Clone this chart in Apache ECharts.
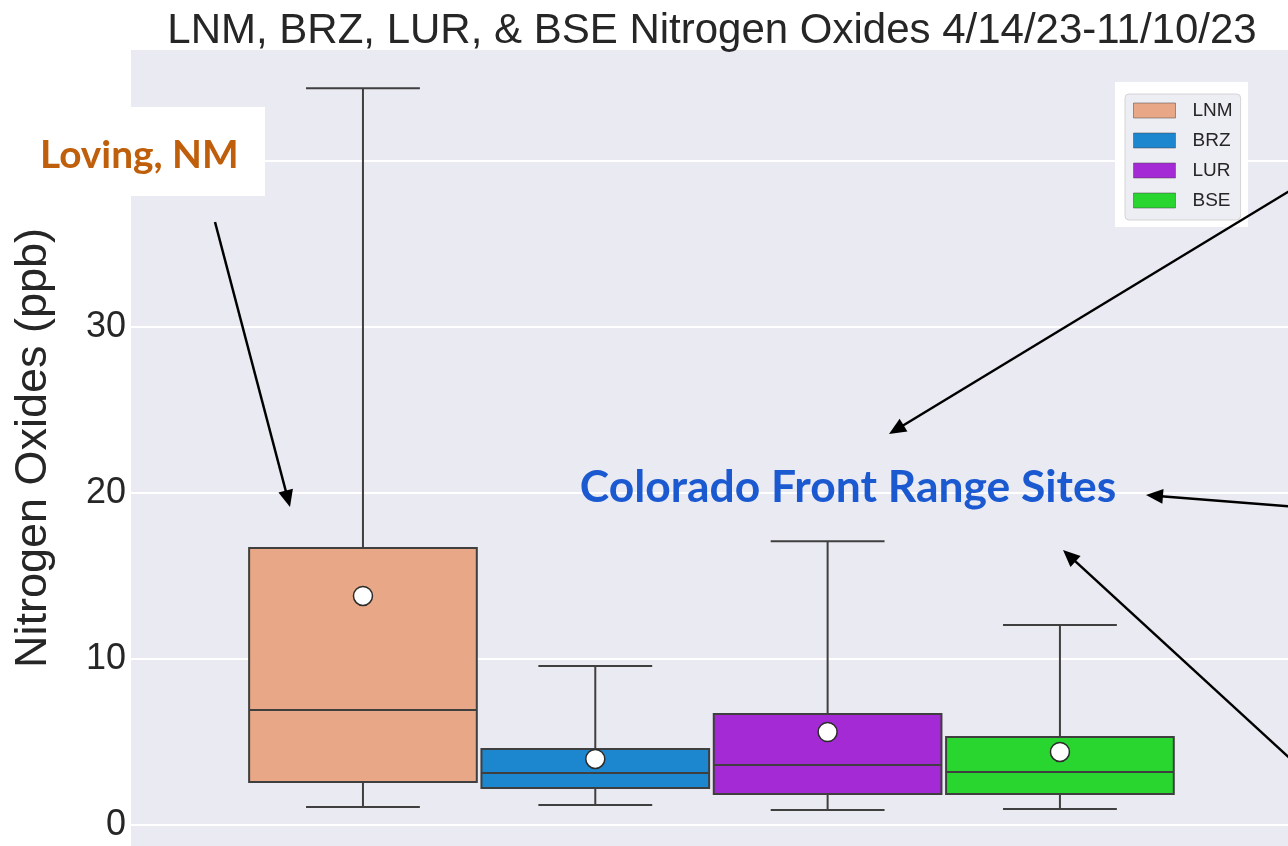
<!DOCTYPE html>
<html>
<head>
<meta charset="utf-8">
<script src="https://cdn.jsdelivr.net/npm/echarts@6/dist/echarts.min.js"></script>
<style>
  html, body { margin: 0; padding: 0; background: #fff; }
  #chart { width: 1288px; height: 846px; }
</style>
</head>
<body>
<div id="chart"></div>
<script>
// values (ppb)
const sites = ["LNM", "BRZ", "LUR", "BSE"];
const whiskerLow = [1.08, 1.2, 0.9, 0.96];
const quartile1 = [2.59, 2.23, 1.87, 1.87];
const medians = [6.93, 3.13, 3.61, 3.19];
const quartile3 = [16.69, 4.58, 6.69, 5.3];
const whiskerHigh = [44.4, 9.58, 17.1, 12.05];
const means = [13.8, 3.98, 5.6, 4.4];
const yTicks = [0, 10, 20, 30, 40];

const siteColors = ["#e8a887", "#1c86cf", "#a42ad6", "#29d630"];
const lineColor = "#3f3f3f";
const textColor = "#262626";

const chart = echarts.init(document.getElementById("chart"));

// one box per site, seaborn style: half width caps, white mean dot
function renderBox(params, api) {
  const x = api.value(0);
  const lo = api.coord([x, api.value(1)]);
  const b1 = api.coord([x, api.value(2)]);
  const md = api.coord([x, api.value(3)]);
  const b3 = api.coord([x, api.value(4)]);
  const hi = api.coord([x, api.value(5)]);
  const mn = api.coord([x, api.value(6)]);
  const half = (api.size([1, 0])[0] * 0.98) / 2;
  const cap = half / 2;
  const cx = lo[0];
  const line = (x1, y1, x2, y2) => ({
    type: "line",
    shape: { x1, y1, x2, y2 },
    style: { stroke: lineColor, lineWidth: 2 },
  });
  return {
    type: "group",
    children: [
      line(cx, hi[1], cx, b3[1]),
      line(cx, b1[1], cx, lo[1]),
      line(cx - cap, hi[1], cx + cap, hi[1]),
      line(cx - cap, lo[1], cx + cap, lo[1]),
      {
        type: "rect",
        shape: { x: cx - half, y: b3[1], width: half * 2, height: b1[1] - b3[1] },
        style: { fill: api.visual("color"), stroke: lineColor, lineWidth: 2 },
      },
      line(cx - half, md[1], cx + half, md[1]),
      {
        type: "circle",
        shape: { cx: mn[0], cy: mn[1], r: 9.5 },
        style: { fill: "#fff", stroke: "#2b2b2b", lineWidth: 1.5 },
      },
    ],
  };
}

const boxSeries = sites.map((site, i) => ({
  name: site,
  type: "custom",
  xAxisIndex: 1,
  yAxisIndex: 1,
  itemStyle: { color: siteColors[i] },
  renderItem: renderBox,
  encode: { x: 0, y: [1, 2, 3, 4, 5, 6] },
  data: [[i, whiskerLow[i], quartile1[i], medians[i], quartile3[i], whiskerHigh[i], means[i]]],
}));

// annotation arrows
function arrow(x1, y1, x2, y2) {
  const len = Math.hypot(x2 - x1, y2 - y1);
  const ux = (x2 - x1) / len;
  const uy = (y2 - y1) / len;
  const headLen = 17;
  const headHalf = 7.5;
  const bx = x2 - ux * headLen;
  const by = y2 - uy * headLen;
  return [
    {
      type: "line",
      z: 120,
      shape: { x1, y1, x2: bx + ux * 2, y2: by + uy * 2 },
      style: { stroke: "#000", lineWidth: 2.5 },
    },
    {
      type: "polygon",
      z: 120,
      shape: {
        points: [
          [x2, y2],
          [bx - uy * headHalf, by + ux * headHalf],
          [bx + uy * headHalf, by - ux * headHalf],
        ],
      },
      style: { fill: "#000" },
    },
  ];
}

const yMin = -1.27;
const yMax = 46.7;

const option = {
  animation: false,
  backgroundColor: "#fff",
  grid: [
    {
      left: 131, right: -5, top: 50, bottom: 0,
      outerBoundsMode: "none",
      show: true, backgroundColor: "#eaeaf2", borderWidth: 0,
    },
    { left: 246.8, width: 929.3, top: 50, bottom: 0, outerBoundsMode: "none" },
  ],
  xAxis: [
    { type: "value", gridIndex: 0, min: 0, max: 1, show: false },
    { type: "category", gridIndex: 1, data: sites, show: false },
  ],
  yAxis: [
    {
      type: "value",
      gridIndex: 0,
      min: yMin,
      max: yMax,
      name: "Nitrogen Oxides (ppb)",
      nameLocation: "middle",
      nameRotate: 90,
      nameGap: 75,
      nameTextStyle: { fontFamily: "Liberation Sans", fontSize: 45, color: textColor },
      axisLine: { show: false },
      axisTick: { show: false, customValues: yTicks },
      axisLabel: {
        customValues: yTicks,
        fontFamily: "Liberation Sans",
        fontSize: 36,
        color: textColor,
        margin: 5,
      },
      splitLine: { show: true, lineStyle: { color: "#fff", width: 2 } },
    },
    { type: "value", gridIndex: 1, min: yMin, max: yMax, show: false },
  ],
  legend: {
    orient: "vertical",
    left: 1125,
    top: 94,
    padding: [7, 8, 10, 8],
    itemWidth: 42,
    itemHeight: 15,
    itemGap: 11,
    icon: "rect",
    backgroundColor: "rgba(234,234,242,0.85)",
    borderColor: "#d4d4d4",
    borderWidth: 1,
    borderRadius: 4,
    z: 110,
    textStyle: {
      fontFamily: "Liberation Sans",
      fontSize: 19,
      color: textColor,
      padding: [0, 0, 0, 12],
    },
    data: sites.map((s, i) => ({
      name: s,
      itemStyle: { color: siteColors[i], borderColor: "rgba(70,70,70,0.5)", borderWidth: 1 },
    })),
  },
  graphic: [
    {
      type: "text",
      x: 712,
      y: 31,
      style: {
        text: "LNM, BRZ, LUR, & BSE Nitrogen Oxides 4/14/23-11/10/23",
        fontFamily: "Liberation Sans",
        fontSize: 42,
        fill: textColor,
        align: "center",
        verticalAlign: "middle",
      },
    },
    { type: "rect", z: 100, shape: { x: 1115, y: 82, width: 133, height: 145 }, style: { fill: "#fff" } },
    { type: "rect", z: 100, shape: { x: 30, y: 107, width: 235, height: 89 }, style: { fill: "#fff" } },
    {
      type: "text",
      z: 101,
      x: 40,
      y: 155,
      style: {
        text: "Loving, NM",
        fontFamily: "Lato",
        fontWeight: "bold",
        fontSize: 38.8,
        fill: "#bf5f0b",
        align: "left",
        verticalAlign: "middle",
      },
    },
    {
      type: "text",
      z: 101,
      x: 848,
      y: 488,
      style: {
        text: "Colorado Front Range Sites",
        fontFamily: "Lato",
        fontWeight: "bold",
        fontSize: 44.4,
        fill: "#1b59d1",
        align: "center",
        verticalAlign: "middle",
      },
    },
    ...arrow(215, 222, 290, 507),
    ...arrow(1296, 187, 889, 434),
    ...arrow(1296, 507, 1146, 495),
    ...arrow(1296, 764, 1063, 550),
  ],
  series: boxSeries,
};

chart.setOption(option);
</script>
</body>
</html>
